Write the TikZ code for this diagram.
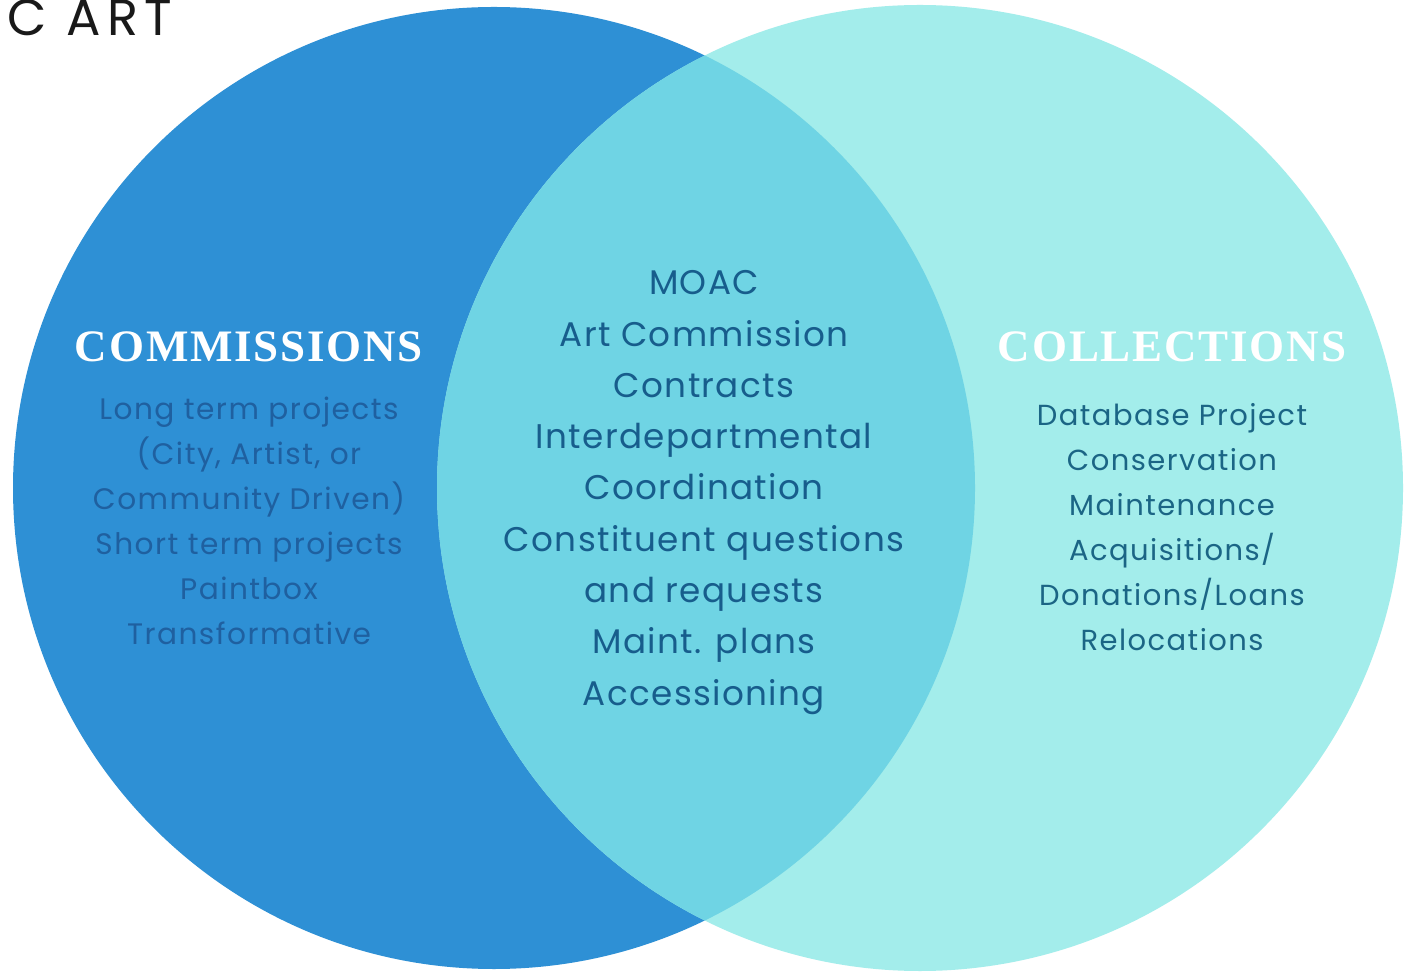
\documentclass[tikz,border=0pt]{standalone}
\usepackage{fontspec}
\newfontfamily\bodyfont[LetterSpace=5]{Poppins}
\newfontfamily\midfont[LetterSpace=4]{Poppins}
\newfontfamily\headfont[LetterSpace=12]{Poppins}
\newfontfamily\titlefont[LetterSpace=4]{Liberation Serif}
\definecolor{leftblue}{HTML}{2E90D5}
\definecolor{rightcyan}{HTML}{A3EDEB}
\definecolor{midcyan}{HTML}{6FD4E4}
\definecolor{lefttext}{HTML}{1F60A0}
\definecolor{midtext}{HTML}{175D8C}
\definecolor{righttext}{HTML}{1B6585}
\tikzset{
  title/.style={font=\titlefont\bfseries\fontsize{22.5}{27}\selectfont, text=white, inner sep=0pt, anchor=base},
  lefttxt/.style={font=\bodyfont\fontsize{14.8}{17}\selectfont, text=lefttext, inner sep=0pt, anchor=base},
  righttxt/.style={font=\bodyfont\fontsize{14.5}{17}\selectfont, text=righttext, inner sep=0pt, anchor=base},
  midtxt/.style={font=\midfont\fontsize{17.1}{21}\selectfont, text=midtext, inner sep=0pt, anchor=base},
}
\begin{document}
\begin{tikzpicture}[x=0.5pt,y=-0.5pt]
\useasboundingbox (0,0) rectangle (1407,977);
\fill[white] (0,0) rectangle (1407,977);
% circles
\fill[leftblue] (494,488) circle[radius=481];
\fill[rightcyan] (920,488) circle[radius=483];
\begin{scope}
  \clip (494,488) circle[radius=481];
  \fill[midcyan] (920,488) circle[radius=483];
\end{scope}
% top-left fragment
\node[font=\headfont\fontsize{25.5}{29}\selectfont, text=black!90, inner sep=0pt, anchor=base west] (hdr) at (7,36) {C ART};
% titles
\node[title] (commissions) at (249,362) {COMMISSIONS};
\node[title] (collections) at (1172,362) {COLLECTIONS};
% left items
\foreach \t [count=\i, evaluate=\i as \yy using 420+45*(\i-1)] in
  {Long term projects, {(City, Artist, or}, {Community Driven)}, Short term projects, Paintbox, Transformative}
  \node[lefttxt] (L\i) at (249,\yy) {\t};
% center items
\foreach \t [count=\i, evaluate=\i as \yy using 295+51.25*(\i-1)] in
  {MOAC, Art Commission, Contracts, Interdepartmental, Coordination, Constituent questions, and requests, Maint. plans, Accessioning}
  \node[midtxt] (M\i) at (704,\yy) {\t};
% right items
\foreach \t [count=\i, evaluate=\i as \yy using 426+45*(\i-1)] in
  {Database Project, Conservation, Maintenance, Acquisitions/, Donations/Loans, Relocations}
  \node[righttxt] (R\i) at (1172,\yy) {\t};
\end{tikzpicture}
\end{document}
